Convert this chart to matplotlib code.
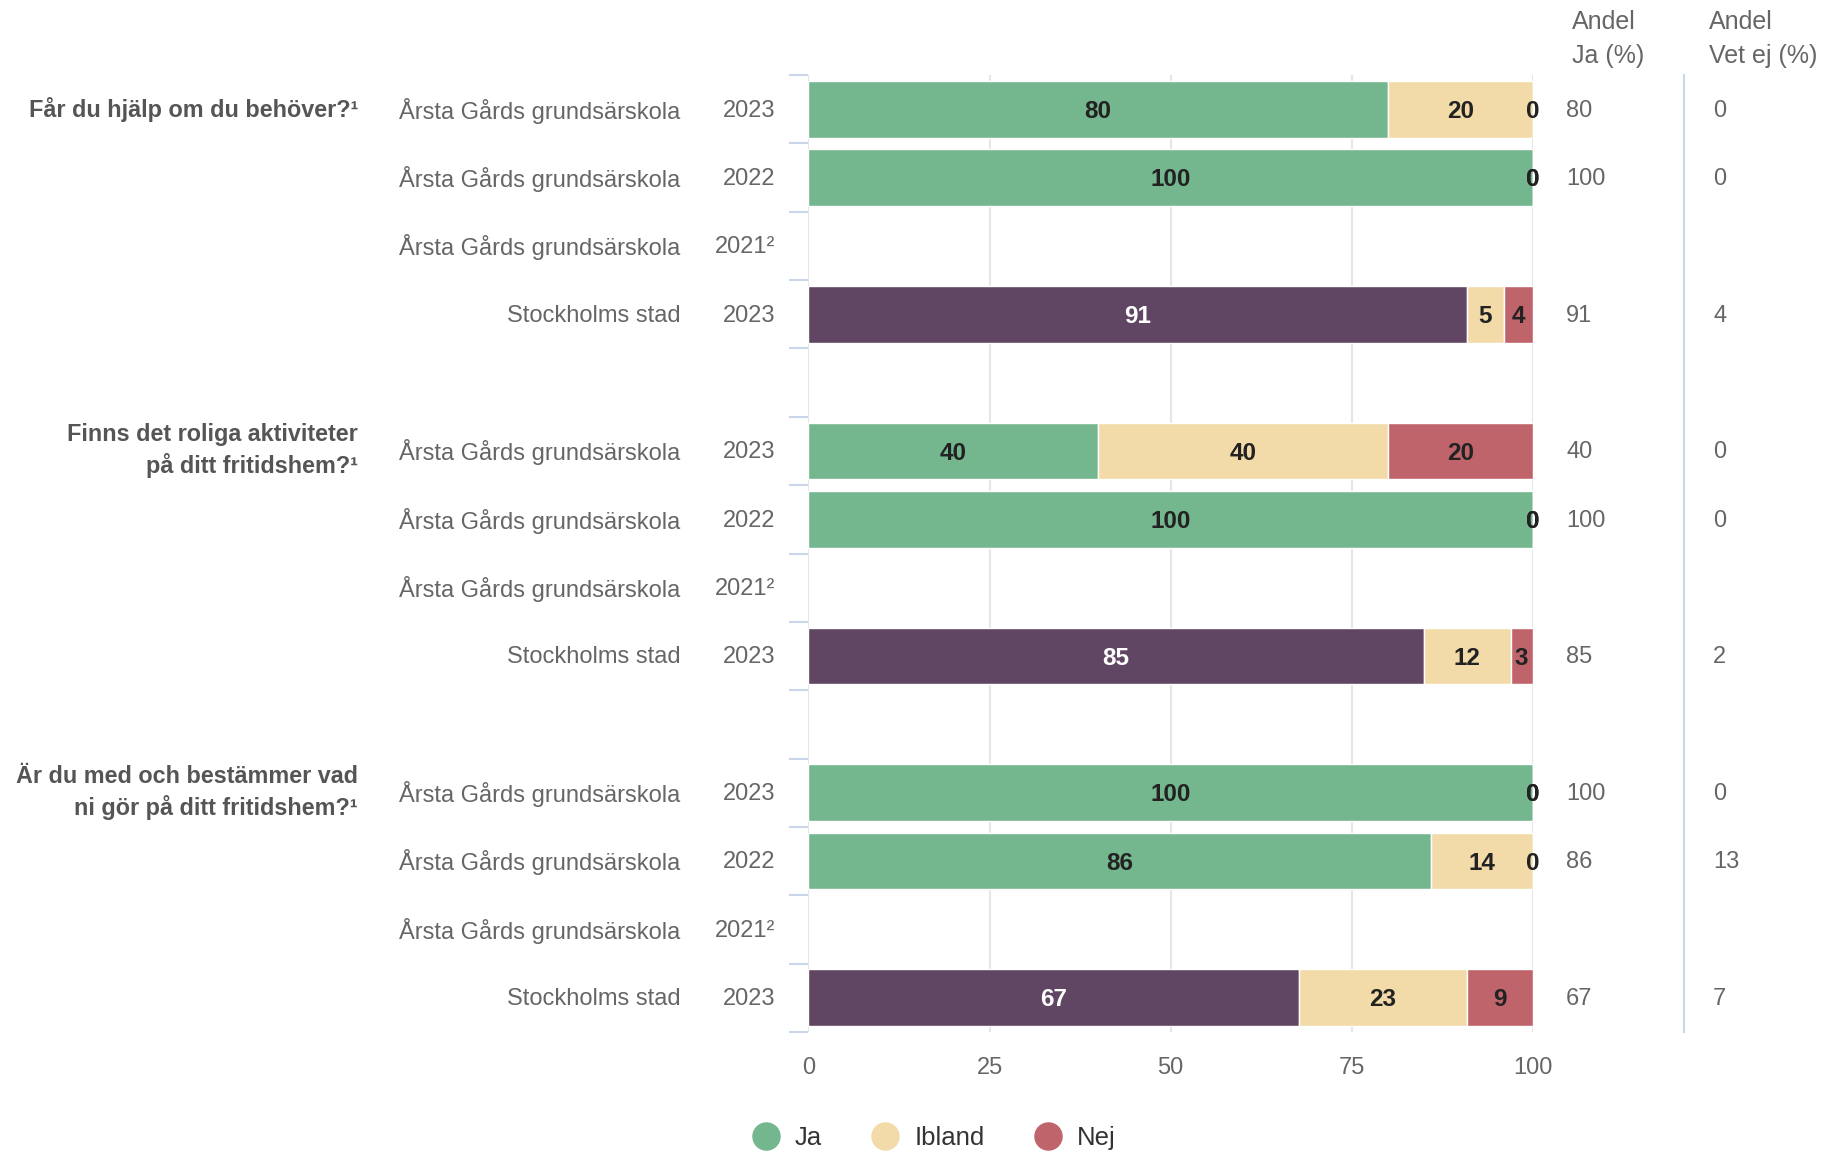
import matplotlib
matplotlib.use("Agg")
import matplotlib.pyplot as plt
from matplotlib.lines import Line2D

plt.rcParams['font.family'] = ['Liberation Sans', 'DejaVu Sans']

questions = ["Får du hjälp om du behöver?¹",
             "Finns det roliga aktiviteter\npå ditt fritidshem?¹",
             "Är du med och bestämmer vad\nni gör på ditt fritidshem?¹"]
units = ["Årsta Gårds grundsärskola", "Årsta Gårds grundsärskola",
         "Årsta Gårds grundsärskola", "Stockholms stad"]
years = ["2023", "2022", "2021²", "2023"]

# per question: rows 2023, 2022, 2021 (no data), Stockholm 2023
ja = [[80, 100, None, 91], [40, 100, None, 85], [100, 86, None, 67]]
ibland = [[20, 0, None, 5], [40, 0, None, 12], [0, 14, None, 23]]
nej = [[0, 0, None, 4], [20, 0, None, 3], [0, 0, None, 9]]
andel_ja = [[80, 100, None, 91], [40, 100, None, 85], [100, 86, None, 67]]
vet_ej = [[0, 0, None, 4], [0, 0, None, 2], [0, 13, None, 7]]

c_ja = "#74b78e"
c_stad = "#604662"
c_ibland = "#f2dba8"
c_nej = "#c0646b"
grey = "#666666"

fig = plt.figure(figsize=(18.4, 11.56), dpi=100)
ax = fig.add_axes([0.4394, 1 - 1032 / 1156, 0.3935, (1032 - 75) / 1156])

for g in range(3):
    for i in range(4):
        y = g * 5 + i
        ax.text(-0.1767, y + 0.02, units[i], transform=ax.get_yaxis_transform(),
                ha="right", va="center", fontsize=17, color=grey)
        ax.text(-0.0453, y + 0.02, years[i], transform=ax.get_yaxis_transform(),
                ha="right", va="center", fontsize=17, color=grey)
        if ja[g][i] is None:
            continue
        vals = [ja[g][i], ibland[g][i], nej[g][i]]
        tot = sum(vals)
        cols = [c_stad if i == 3 else c_ja, c_ibland, c_nej]
        left = 0
        for k in range(3):
            w = vals[k] * 100 / tot
            ax.barh(y, w, left=left, height=0.83, color=cols[k],
                    edgecolor="white", linewidth=1, zorder=3)
            tc = "white" if (k == 0 and i == 3) else "#222222"
            ax.text(left + w / 2, y + 0.03, str(vals[k]), ha="center", va="center",
                    fontsize=17.5, fontweight="bold", color=tc, zorder=4, clip_on=False)
            left += w
        ax.text(1.0465, y + 0.02, str(andel_ja[g][i]), transform=ax.get_yaxis_transform(),
                ha="left", va="center", fontsize=17, color=grey)
        ax.text(1.2493, y + 0.02, str(vet_ej[g][i]), transform=ax.get_yaxis_transform(),
                ha="left", va="center", fontsize=17, color=grey)
    ax.text(-0.6223, g * 5, questions[g], transform=ax.get_yaxis_transform(),
            ha="right", va="center", fontsize=16.8, fontweight="bold",
            color="#555555", linespacing=1.35)

ax.set_xlim(0, 100)
ax.set_ylim(13.5, -0.5)
ax.set_xticks([0, 25, 50, 75, 100])
ax.tick_params(axis="x", length=0, pad=18, labelsize=17, labelcolor=grey)
ax.set_yticks([b - 0.5 for b in range(15)])
ax.set_yticklabels([])
ax.tick_params(axis="y", length=14, width=1.5, color="#ccd6eb")
ax.grid(axis="x", color="#e6e6e6", linewidth=1.5, zorder=0)
ax.set_axisbelow(True)
for s in ax.spines.values():
    s.set_visible(False)

ax.plot([1.2092, 1.2092], [0, 1], transform=ax.transAxes, clip_on=False,
        color="#ccd6eb", linewidth=1.5)

fig.text(1572 / 1840, 1 - 22 / 1156, "Andel", ha="left", va="center", fontsize=18, color=grey)
fig.text(1572 / 1840, 1 - 56 / 1156, "Ja (%)", ha="left", va="center", fontsize=18, color=grey)
fig.text(1709 / 1840, 1 - 22 / 1156, "Andel", ha="left", va="center", fontsize=18, color=grey)
fig.text(1709 / 1840, 1 - 56 / 1156, "Vet ej (%)", ha="left", va="center", fontsize=18, color=grey)

handles = [Line2D([], [], linestyle="none", marker="o", markersize=19.5,
                  markerfacecolor=c, markeredgecolor=c) for c in [c_ja, c_ibland, c_nej]]
fig.legend(handles, ["Ja", "Ibland", "Nej"], loc="center", bbox_to_anchor=(0.5076, 0.0156),
           ncol=3, frameon=False, fontsize=18.5, labelcolor="#333333",
           handlelength=1.05, handletextpad=0.6, columnspacing=1.95)

fig.savefig("out.png", dpi=100)
